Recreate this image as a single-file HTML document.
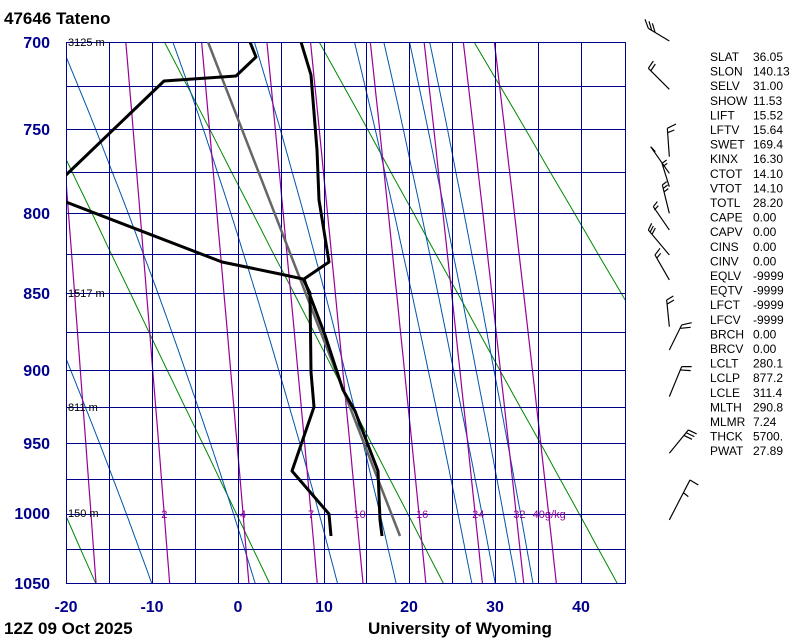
<!DOCTYPE html>
<html><head><meta charset="utf-8"><style>
html,body{margin:0;padding:0;background:#fff;}
body{width:800px;height:640px;overflow:hidden;position:relative;font-family:"Liberation Sans",sans-serif;}
</style></head><body>
<svg id="s" width="800" height="640" xmlns="http://www.w3.org/2000/svg" style="position:absolute;left:0;top:0">
<defs><clipPath id="c"><rect x="66" y="42" width="559" height="541"/></clipPath></defs>
<g id="bg" clip-path="url(#c)"></g>
<g id="grid" shape-rendering="crispEdges"></g>
<g id="data" clip-path="url(#c)" fill="none" stroke-linejoin="round">
<polyline points="208,42 400,536" stroke="#666" stroke-width="2.5"/>
<polyline points="301,42 311,75 317,150 319,200 329,262 304,279 309,293 325,335 343,390 355,411 378,471 380,520 382,536" stroke="#000" stroke-width="3"/>
<polyline points="250,42 256,57 236,76 164,81 66,175" stroke="#000" stroke-width="3"/>
<polyline points="66,202 222,262 280,274 303,279 310,293 311,372 314,407 292,471 329,514 331,536" stroke="#000" stroke-width="3"/>
</g>
<g font-size="11" fill="#000">
<text x="68" y="46">3125 m</text>
<text x="68" y="297">1517 m</text>
<text x="68" y="411">811 m</text>
<text x="68" y="517">150 m</text>
</g>
<g id="mrl" font-size="11" fill="#990099"></g>
<g font-size="16" font-weight="bold" fill="#00008b" text-anchor="end">
<text x="50" y="48">700</text><text x="50" y="135">750</text><text x="50" y="219">800</text>
<text x="50" y="299">850</text><text x="50" y="376">900</text><text x="50" y="449">950</text>
<text x="50" y="519">1000</text><text x="50" y="589">1050</text>
</g>
<g font-size="16" font-weight="bold" fill="#00008b" text-anchor="middle">
<text x="66" y="612">-20</text><text x="152" y="612">-10</text><text x="238" y="612">0</text>
<text x="324" y="612">10</text><text x="409" y="612">20</text><text x="495" y="612">30</text><text x="581" y="612">40</text>
</g>
<text x="4" y="24" font-size="17" font-weight="bold">47646  Tateno</text>
<text x="4" y="634" font-size="17" font-weight="bold">12Z 09 Oct 2025</text>
<text x="368" y="634" font-size="17" font-weight="bold">University of Wyoming</text>
<g id="stats" font-size="12" fill="#000"></g>
<g transform="translate(630,0) scale(0.3333)" stroke="#000" stroke-width="3.5" fill="none">
<path d="M118,123L55,85M55,85L45,58M65,91L57,64M75,96L67,70"/>
<path d="M118,268L55,205M55,205L70,183M62,213L76,192"/>
<path d="M118,470L112,385M112,385L138,372M113,398L133,390"/>
<path d="M118,520L62,440M62,440L76,455"/>
<path d="M118,560L96,490M96,490L110,480M98,500L112,490"/>
<path d="M118,640L97,555M97,555L110,545M100,565L113,555M103,575L115,566"/>
<path d="M118,690L70,620M70,620L82,605M73,630L85,617"/>
<path d="M118,765L55,690M55,690L65,670M60,697L70,678M66,703L76,684"/>
<path d="M118,840L75,765M75,765L90,745M80,775L92,760"/>
<path d="M118,980L110,900M110,900L130,888M112,912L132,900"/>
<path d="M118,1050L155,975M155,975L185,968M152,985L182,982"/>
<path d="M118,1190L155,1100M155,1100L185,1100M150,1110L182,1112"/>
<path d="M118,1360L175,1290M175,1290L200,1302M168,1298L193,1310M161,1306L186,1318"/>
<path d="M118,1560L180,1440M180,1440L205,1455M160,1478L175,1490"/>
</g>
</svg>
<script>
var P=[700,725,750,775,800,825,850,875,900,925,950,975,1000,1025,1050];
var Y=[42,86,129,172,213,254,293,332,370,407,443,479,514,549,583];
function y(p){for(var i=0;i<P.length-1;i++){if(p<=P[i+1]||i==P.length-2){return Y[i]+(p-P[i])/(P[i+1]-P[i])*(Y[i+1]-Y[i]);}}}
function x(T){return 237.8+T*8.57;}
var NS="http://www.w3.org/2000/svg";
function el(g,t,a,txt){var e=document.createElementNS(NS,t);for(var k in a)e.setAttribute(k,a[k]);if(txt)e.textContent=txt;document.getElementById(g).appendChild(e);return e;}
function pl(g,pts,st,w,da){el(g,"polyline",{points:pts.map(function(q){return q[0].toFixed(1)+","+q[1].toFixed(1)}).join(" "),fill:"none",stroke:st,"stroke-width":w,"stroke-dasharray":da||"none"});}
// dry adiabats
[253,273,293,313,333,353].forEach(function(th){var a=[];for(var p=650;p<=1060;p+=10)a.push([x(th*Math.pow(p/1000,0.286)-273.15),y(p)]);pl("bg",a,"#008800",1);});
// moist
function es(T){return 6.112*Math.exp(17.67*T/(T+243.5));}
function dTdp(T,p){var Tk=T+273.15,r=0.622*es(T)/(p-es(T));return (287*Tk+2.5e6*r)/(p*(1005+2.5e6*2.5e6*r*0.622/(287*Tk*Tk)));}
[-13,-0.5,9.5,16.6,25.7,28.5,31,33].forEach(function(T0){var T=T0,p;var up=[];for(p=1000;p>=650;p-=1){up.push([x(T),y(p)]);T-=dTdp(T,p);}T=T0;var dn=[];for(p=1000;p<=1060;p+=1){dn.push([x(T),y(p)]);T+=dTdp(T,p);}pl("bg",dn.reverse().concat(up),"#0055aa",1);});
// mixing ratio
function td(w,p){var e=w*p/(622+w),l=Math.log(e/6.112);return 243.5*l/(17.67-l);}
[1,2,4,7,10,16,24,32,40].forEach(function(w){var a=[];for(var p=650;p<=1060;p+=10)a.push([x(td(w,p)),y(p)]);pl("bg",a,"#990099",1.2);
 if(w>1){var xx=x(td(w,1000));el("mrl","text",{x:(w==40?xx-16:xx-3),y:518},w==40?"40g/kg":String(w));}});
// grid
for(var i=0;i<15;i++)el("grid","line",{x1:66,x2:625,y1:Y[i]+0.5,y2:Y[i]+0.5,stroke:"#000088","stroke-width":1});
for(var t=-20;t<=45;t+=5){var xx=Math.round(x(t));if(t==45)xx=625;el("grid","line",{x1:xx+0.5,x2:xx+0.5,y1:42,y2:584,stroke:"#000088","stroke-width":1});}
// stats
var S=[["SLAT","36.05"],["SLON","140.13"],["SELV","31.00"],["SHOW","11.53"],["LIFT","15.52"],["LFTV","15.64"],["SWET","169.4"],["KINX","16.30"],["CTOT","14.10"],["VTOT","14.10"],["TOTL","28.20"],["CAPE","0.00"],["CAPV","0.00"],["CINS","0.00"],["CINV","0.00"],["EQLV","-9999"],["EQTV","-9999"],["LFCT","-9999"],["LFCV","-9999"],["BRCH","0.00"],["BRCV","0.00"],["LCLT","280.1"],["LCLP","877.2"],["LCLE","311.4"],["MLTH","290.8"],["MLMR","7.24"],["THCK","5700."],["PWAT","27.89"]];
S.forEach(function(s,i){var yy=61+i*14.6;el("stats","text",{x:710,y:yy.toFixed(1)},s[0]);el("stats","text",{x:753,y:yy.toFixed(1)},s[1]);});
</script>
</body></html>
